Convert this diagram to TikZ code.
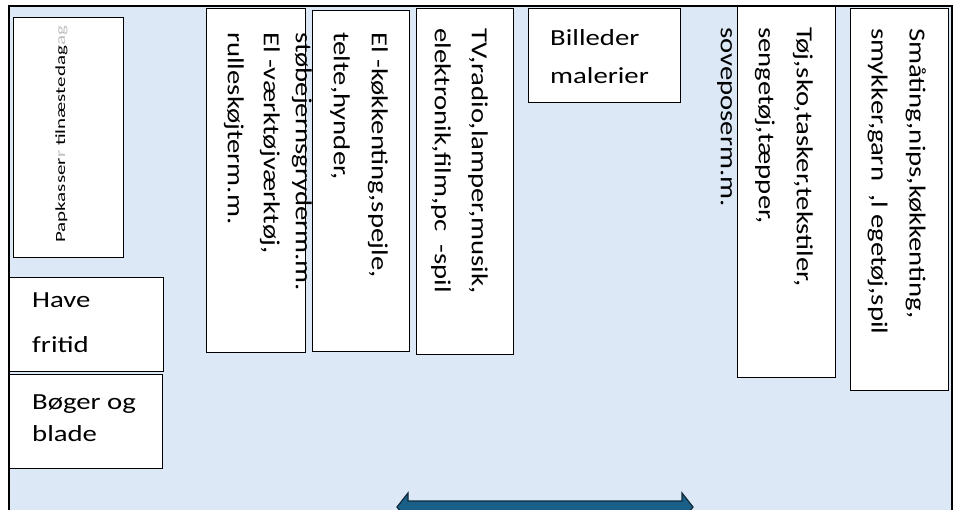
\documentclass[tikz,border=0pt]{standalone}
\usepackage{fontspec}
\setmainfont{Carlito}
\newfontfamily\bred[FakeStretch=1.25]{Carlito}
\newfontfamily\smal[FakeStretch=1.5]{Carlito}
\usepackage{tikz}

\definecolor{bund}{RGB}{220,232,245}
\definecolor{pil}{RGB}{26,95,135}
\definecolor{pilkant}{RGB}{14,42,60}

\tikzset{
  kasse/.style={draw=black, line width=1.4pt, fill=white, inner sep=0pt, anchor=north west},
  vandret/.style={inner sep=0pt, anchor=north west, align=left, font=\bred\fontsize{23}{38}\selectfont},
  lodret/.style={vandret, rotate=-90},
}

\begin{document}
\begin{tikzpicture}[x=1pt, y=-1pt]
  \useasboundingbox (0,0) rectangle (960,510);
  \clip (0,0) rectangle (960,510);
  \fill[bund] (9,6) rectangle (952,530);
  \draw[line width=1.6pt] (9,530) -- (9,6) -- (952,6) -- (952,530);

  \node[kasse, minimum width=110pt, minimum height=240pt] (pap) at (13,17) {};
  \node[kasse, minimum width=154pt, minimum height=94pt] (have) at (9,277) {};
  \node[kasse, minimum width=153pt, minimum height=94pt] (boger) at (9,374) {};

  \node[kasse, minimum width=99pt, minimum height=344pt] (vaerktoj) at (206,8) {};
  \node[kasse, minimum width=97pt, minimum height=341pt] (koekken) at (312,10) {};
  \node[kasse, minimum width=97pt, minimum height=346pt] (tv) at (416,8) {};
  \node[kasse, minimum width=152pt, minimum height=94pt] (billeder) at (528,8) {};
  \node[kasse, minimum width=98pt, minimum height=371pt] (toej) at (737,6) {};
  \node[kasse, minimum width=98pt, minimum height=382pt] (smaating) at (850,8) {};

  % tekster ovenpaa kasserne
  \node[rotate=90, anchor=base west, inner sep=0pt, font=\smal\fontsize{14}{16}\selectfont]
    (paptekst) at (65,243) {Papkasser{\color{black!25}r} tilnæstedag{\color{black!25}ag}};
  \node[vandret] (havetekst) at (32,293) {Have\\[7pt]fritid};
  \node[vandret] (bogertekst) at (32,395) {Bøger og\\[-6pt]blade};
  \node[vandret] (billedertekst) at (550,29) {Billeder\\malerier};

  \node[lodret] (vaerktojtekst) at (280,32) {El -værktøjværktøj,\\[-2pt]rulleskøjterm.m.};
  \node[lodret] (koekkentekst) at (388,32) {El -køkkenting,spejle,\\telte,hynder,\\støbejernsgryderm.m.};
  \node[lodret] (tvtekst) at (488,28) {TV,radio,lamper,musik,\\[-1pt]elektronik,film,pc\ \ -spil};
  \node[lodret] (toejtekst) at (813,27) {Tøj,sko,tasker,tekstiler,\\sengetøj,tæpper,\\soveposerm.m.};
  \node[lodret] (smaatingtekst) at (926,28) {Småting,nips,køkkenting,\\smykker,garn\ \ ,l egetøj,spil};

  \filldraw[fill=pil, draw=pilkant, line width=1.2pt] (397,507) -- (408,493) -- (408,501) -- (682,501)
    -- (682,493) -- (693,507) -- (682,521) -- (682,513) -- (408,513) -- (408,521) -- cycle;
\end{tikzpicture}
\end{document}
